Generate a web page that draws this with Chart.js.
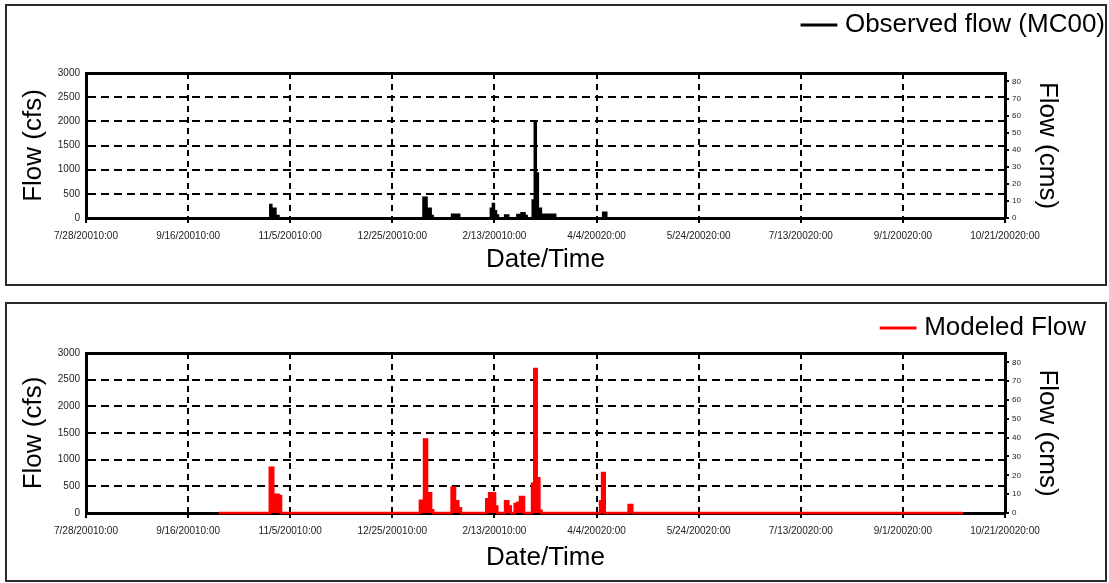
<!DOCTYPE html>
<html>
<head>
<meta charset="utf-8">
<script src="https://cdn.jsdelivr.net/npm/chart.js@4.4.0/dist/chart.umd.min.js"></script>
<style>
  body { margin: 0; background: #fff; }
  .box { position: absolute; left: 5px; width: 1102px; border: 2px solid #2a2a2a; box-sizing: border-box; }
  #box1 { top: 4px; height: 282px; }
  #box2 { top: 302px; height: 280px; }
  canvas { display: block; }
</style>
</head>
<body>
<div class="box" id="box1"><canvas id="observed" width="1098" height="278"></canvas></div>
<div class="box" id="box2"><canvas id="modeled" width="1098" height="276"></canvas></div>
<script>
// x values are days after 7/28/2001 0:00, flows in cfs
var tickLabels = ["7/28/20010:00", "9/16/20010:00", "11/5/20010:00", "12/25/20010:00", "2/13/20010:00",
                  "4/4/20020:00", "5/24/20020:00", "7/13/20020:00", "9/1/20020:00", "10/21/20020:00"];

var obsDay = [0, 90, 91, 93, 94.5, 165, 167, 169, 170, 179, 183, 198, 199, 200, 201, 202, 205, 207,
              211, 213, 215, 216, 218.5, 219.5, 220.5, 221.5, 223, 230, 253, 255, 450];
var obsCfs = [0, 280, 200, 50, 0, 430, 200, 50, 0, 80, 0, 200, 300, 150, 60, 0, 60, 0,
              70, 110, 50, 0, 370, 2000, 930, 200, 80, 0, 120, 0, 0];

var modDay = [65, 90, 91.7, 94.3, 95.5, 163.5, 165.5, 167, 169, 170, 179, 180.7, 182.3, 183.6,
              196, 197.4, 200.3, 201.4, 205.2, 206.8, 208, 209.9, 211.2, 212.5, 214.5,
              218.4, 219.5, 220.7, 222, 223.1, 251.7, 252.7, 254, 265.7, 267.5, 429.5];
var modCfs = [0, 850, 340, 320, 0, 230, 1380, 370, 50, 0, 480, 220, 90, 0,
              260, 370, 120, 0, 220, 120, 0, 170, 190, 300, 0,
              550, 2700, 650, 40, 0, 220, 750, 0, 150, 0, 0];

var CFS_TO_CMS = 0.0283168;
var font = "'Liberation Sans', Arial, sans-serif";

function makeChart(id, label, color, days, cfs, lay) {
  var pts = days.map(function (d, i) { return { x: d, y: cfs[i] }; });
  return new Chart(document.getElementById(id), {
    type: 'line',
    data: {
      datasets: [{
        label: label,
        data: pts,
        borderColor: color,
        backgroundColor: color,
        borderWidth: lay.lw,
        fill: 'origin',
        stepped: true,
        pointRadius: 0,
        clip: 4
      }]
    },
    options: {
      responsive: false,
      animation: false,
      devicePixelRatio: 1,
      layout: { padding: { top: lay.padTop, right: lay.padRight, left: 0, bottom: 0 } },
      plugins: {
        tooltip: { enabled: false },
        legend: {
          position: 'top',
          align: 'end',
          labels: {
            usePointStyle: true,
            pointStyle: 'line',
            padding: 0,
            color: '#000',
            font: { family: font, size: 26 },
            generateLabels: function (chart) {
              var items = Chart.defaults.plugins.legend.labels.generateLabels(chart);
              items.forEach(function (it) { it.lineWidth = 3; });
              return items;
            }
          }
        }
      },
      scales: {
        x: {
          type: 'linear',
          position: 'bottom',
          min: 0, max: 450,
          afterFit: function (s) { s.height = lay.xH; },
          ticks: {
            stepSize: 50, autoSkip: false, maxRotation: 0, padding: 7,
            color: '#222', font: { family: font, size: 10 },
            callback: function (v, i) { return tickLabels[i]; }
          },
          grid: { color: '#000', lineWidth: 2, tickLength: 5, tickWidth: 2 },
          border: { color: '#000', width: 3, dash: [6, 5] },
          title: { display: true, text: 'Date/Time', color: '#000', font: { family: font, size: 26 }, padding: { bottom: lay.xTitle } }
        },
        xTop: {
          type: 'linear',
          position: 'top',
          min: 0, max: 450,
          afterFit: function (s) { s.height = lay.topH; },
          ticks: { display: false },
          grid: { display: false },
          border: { color: '#000', width: 3 }
        },
        y: {
          position: 'left',
          min: 0, max: 3000,
          afterFit: function (s) { s.width = 79; },
          ticks: {
            stepSize: 500, padding: 6, color: '#222', font: { family: font, size: 10 },
            callback: function (v) { return String(v); }
          },
          grid: { color: '#000', lineWidth: 2, drawTicks: false },
          border: { color: '#000', width: 3, dash: [8, 5] },
          title: { display: true, text: 'Flow (cfs)', color: '#000', font: { family: font, size: 26 }, padding: { top: 11 } }
        },
        y2: {
          position: 'right',
          min: 0, max: 3000 * CFS_TO_CMS,
          afterFit: function (s) { s.width = lay.rW; },
          ticks: {
            stepSize: 10, includeBounds: false, padding: 3, color: '#222', font: { family: font, size: 8 },
            callback: function (v) { return String(v); }
          },
          grid: { drawOnChartArea: false, color: '#000', tickLength: 4, lineWidth: 2 },
          border: { color: '#000', width: 3 },
          title: { display: true, text: 'Flow (cms)', color: '#000', font: { family: font, size: 26 }, padding: { top: lay.rTitle } }
        }
      }
    }
  });
}

makeChart('observed', 'Observed flow (MC00)', '#000000', obsDay, obsCfs,
  { lw: 1.5, padTop: 6, padRight: 0, xH: 66, topH: 25, xTitle: 9, rW: 100, rTitle: 42 });
makeChart('modeled', 'Modeled Flow', '#ff0000', modDay, modCfs,
  { lw: 2.5, padTop: 11, padRight: 19, xH: 67, topH: 2, xTitle: 7, rW: 81, rTitle: 23 });
</script>
</body>
</html>
